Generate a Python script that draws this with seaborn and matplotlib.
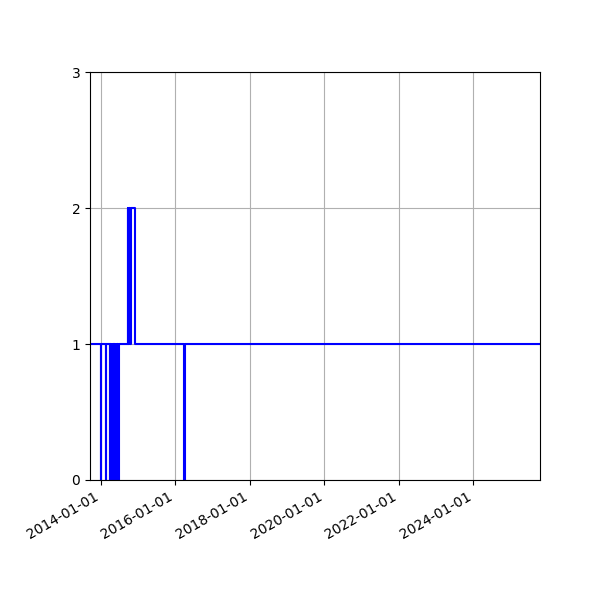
import pandas as pd
import matplotlib
matplotlib.use("Agg")
import matplotlib.pyplot as plt
import matplotlib.dates as mdates
import seaborn as sns

# change points (value holds until next date)
dates = [
    "2013-09-15", "2014-01-02", "2014-01-04", "2014-02-19", "2014-02-21",
    "2014-03-27", "2014-03-31", "2014-04-04", "2014-04-08", "2014-04-12",
    "2014-04-16", "2014-04-20", "2014-04-24", "2014-04-28", "2014-05-02",
    "2014-05-06", "2014-05-10", "2014-05-14", "2014-05-18", "2014-05-22",
    "2014-05-26", "2014-05-30", "2014-06-03", "2014-06-07", "2014-06-11",
    "2014-06-15", "2014-06-19", "2014-06-21", "2014-06-23",
    "2014-09-19", "2014-09-27", "2014-10-05", "2014-10-11", "2014-10-18",
    "2014-11-27", "2016-03-28", "2016-03-30", "2025-10-14",
]
values = [
    1, 0, 1, 0, 1,
    0, 1, 0, 1, 0,
    1, 0, 1, 0, 1,
    0, 1, 0, 1, 0,
    1, 0, 1, 0, 1,
    0, 1, 0, 1,
    2, 1, 2, 1, 2,
    1, 0, 1, 1,
]

df = pd.DataFrame({"date": pd.to_datetime(dates), "value": values})

fig, ax = plt.subplots(figsize=(6, 6), dpi=100)
sns.lineplot(data=df, x="date", y="value", drawstyle="steps-post",
             color="blue", estimator=None, linewidth=1.5, ax=ax)

ax.set_xlim(df["date"].min(), df["date"].max())
ax.set_ylim(0, 3)
ax.set_yticks([0, 1, 2, 3])
ax.xaxis.set_major_locator(mdates.YearLocator(2))
ax.xaxis.set_major_formatter(mdates.DateFormatter("%Y-%m-%d"))
ax.set_xlabel("")
ax.set_ylabel("")
ax.grid(True)
fig.autofmt_xdate()
fig.subplots_adjust(left=0.15, right=0.9, top=0.88, bottom=0.2)

plt.savefig("out.png")
plt.close()
